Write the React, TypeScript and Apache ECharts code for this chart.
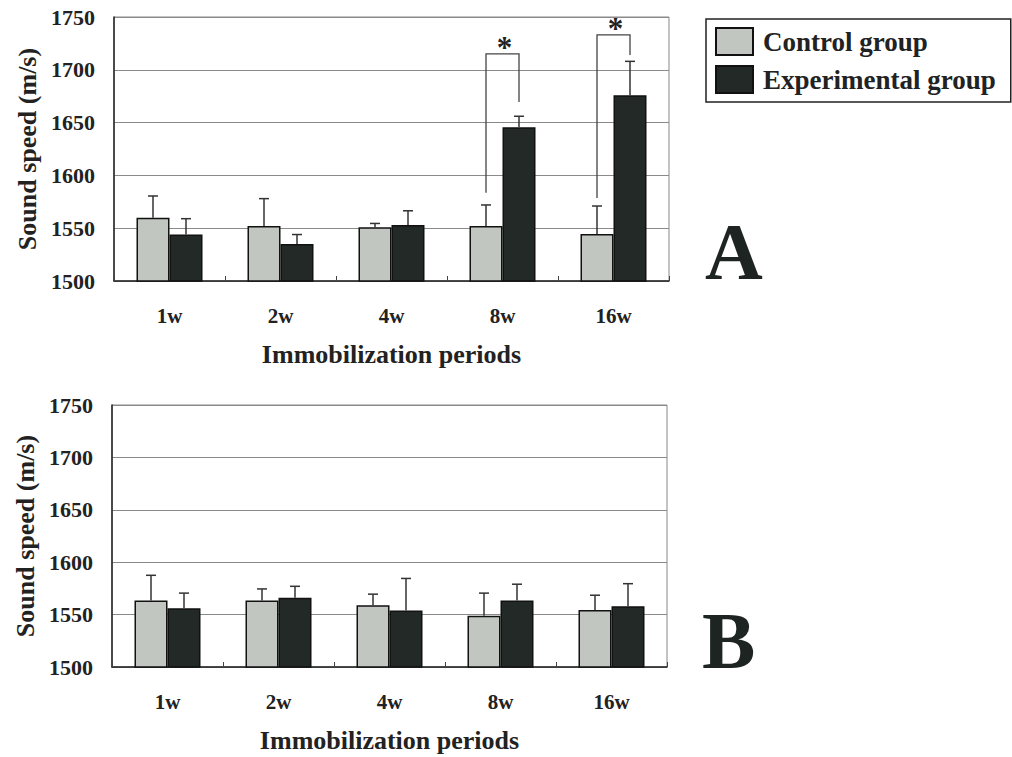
import React, { useEffect, useRef } from "react";
import * as echarts from "echarts";

const categories = ["1w", "2w", "4w", "8w", "16w"];
const yTicks = [1500, 1550, 1600, 1650, 1700, 1750];

// Panel A
const controlA = [1560, 1552, 1551, 1552, 1544.5];
const controlASd = [20.5, 26, 3.5, 20, 26.5];
const expA = [1544, 1535, 1553, 1645.5, 1676];
const expASd = [15, 9, 13.5, 10.5, 32];
// [category index, left base, bracket top, right base]
const bracketsA = [
  [3, 1583.5, 1715, 1669.5],
  [4, 1578.5, 1733, 1714],
];

// Panel B
const controlB = [1563.5, 1563.5, 1559, 1549, 1554.5];
const controlBSd = [24, 11, 10.5, 21.5, 14];
const expB = [1556, 1566, 1554, 1563.5, 1558];
const expBSd = [14.5, 11, 30.5, 15.5, 21.5];

const SERIF = "Liberation Serif";
const BAR_W = 33;
const CONTROL_COLOR = "#c1c6c0";
const EXP_COLOR = "#232927";

function errData(mean: number[], sd: number[]) {
  return mean.map((m, i) => [i, m + sd[i], m]);
}

function errSeries(name: string, grid: number, data: number[][], offset: number) {
  return {
    type: "custom",
    name: name + " SD",
    xAxisIndex: grid,
    yAxisIndex: grid,
    z: 5,
    silent: true,
    data,
    renderItem: (params: any, api: any) => {
      const idx = api.value(0);
      const top = api.coord([idx, api.value(1)]);
      const base = api.coord([idx, api.value(2)]);
      const x = base[0] + offset;
      const st = { stroke: "#333", lineWidth: 1.5 };
      return {
        type: "group",
        children: [
          { type: "line", shape: { x1: x, y1: base[1], x2: x, y2: top[1] }, style: st },
          { type: "line", shape: { x1: x - 5, y1: top[1], x2: x + 5, y2: top[1] }, style: st },
        ],
      };
    },
  };
}

export default function App() {
  const ref = useRef<HTMLDivElement>(null);
  useEffect(() => {
    if (!ref.current) return;
    const chart = echarts.init(ref.current, null, { renderer: "svg" });
    const yAxisBase = () => ({
      type: "value",
      min: 1500,
      max: 1750,
      interval: 50,
      name: "Sound speed (m/s)",
      nameLocation: "middle",
      nameGap: 74,
      nameTextStyle: { fontFamily: SERIF, fontWeight: "bold", fontSize: 26, color: "#222" },
      axisLine: { show: true, lineStyle: { color: "#222", width: 1.5 } },
      axisTick: { show: false },
      axisLabel: {
        fontFamily: SERIF,
        fontWeight: "bold",
        fontSize: 22,
        color: "#222",
        margin: 19,
        formatter: (v: number) => (yTicks.indexOf(v) >= 0 ? String(v) : ""),
      },
      splitLine: { show: true, lineStyle: { color: "#8a8a8a", width: 1 } },
    });
    const xAxisBase = (gi: number) => ({
      type: "category",
      gridIndex: gi,
      data: categories,
      name: "Immobilization periods",
      nameLocation: "middle",
      nameGap: 60,
      nameTextStyle: { fontFamily: SERIF, fontWeight: "bold", fontSize: 26, color: "#222" },
      axisLine: { show: true, lineStyle: { color: "#222", width: 1.5 } },
      axisTick: { show: true, inside: true, length: 5, lineStyle: { color: "#444" } },
      axisLabel: { fontFamily: SERIF, fontWeight: "bold", fontSize: 21, color: "#222", margin: 24 },
    });
    const barStyle = (color: string) => ({ color, borderColor: "#111", borderWidth: 1.5 });

    chart.setOption({
      animation: false,
      backgroundColor: "#fff",
      textStyle: { fontFamily: SERIF },
      grid: [
        { left: 114, top: 17, width: 555, height: 264, show: true, borderColor: "#888", borderWidth: 1 },
        { left: 112, top: 405, width: 555, height: 262, show: true, borderColor: "#888", borderWidth: 1 },
      ],
      xAxis: [xAxisBase(0), xAxisBase(1)],
      yAxis: [
        { ...yAxisBase(), gridIndex: 0 },
        { ...yAxisBase(), gridIndex: 1 },
      ],
      legend: {
        left: 706,
        top: 19,
        orient: "vertical",
        data: ["Control group", "Experimental group"],
        selectedMode: false,
        borderColor: "#222",
        borderWidth: 1.5,
        padding: [8, 15, 8, 9],
        itemWidth: 37,
        itemHeight: 27,
        itemGap: 9,
        icon: "rect",
        textStyle: { fontFamily: SERIF, fontWeight: "bold", fontSize: 27, color: "#222", padding: [0, 0, 0, 5] },
      },
      series: [
        { type: "bar", name: "Control group", xAxisIndex: 0, yAxisIndex: 0, data: controlA, barWidth: BAR_W, barGap: "0%", itemStyle: barStyle(CONTROL_COLOR) },
        { type: "bar", name: "Experimental group", xAxisIndex: 0, yAxisIndex: 0, data: expA, barWidth: BAR_W, barGap: "0%", itemStyle: barStyle(EXP_COLOR) },
        { type: "bar", name: "Control group", xAxisIndex: 1, yAxisIndex: 1, data: controlB, barWidth: BAR_W, barGap: "0%", itemStyle: barStyle(CONTROL_COLOR) },
        { type: "bar", name: "Experimental group", xAxisIndex: 1, yAxisIndex: 1, data: expB, barWidth: BAR_W, barGap: "0%", itemStyle: barStyle(EXP_COLOR) },
        errSeries("Control A", 0, errData(controlA, controlASd), -BAR_W / 2),
        errSeries("Experimental A", 0, errData(expA, expASd), BAR_W / 2),
        errSeries("Control B", 1, errData(controlB, controlBSd), -BAR_W / 2),
        errSeries("Experimental B", 1, errData(expB, expBSd), BAR_W / 2),
        {
          type: "custom",
          name: "significance",
          xAxisIndex: 0,
          yAxisIndex: 0,
          silent: true,
          z: 6,
          data: bracketsA,
          renderItem: (params: any, api: any) => {
            const idx = api.value(0);
            const l = api.coord([idx, api.value(1)]);
            const t = api.coord([idx, api.value(2)]);
            const r = api.coord([idx, api.value(3)]);
            const xl = l[0] - BAR_W / 2;
            const xr = l[0] + BAR_W / 2;
            return {
              type: "group",
              children: [
                {
                  type: "polyline",
                  shape: { points: [[xl, l[1]], [xl, t[1]], [xr, t[1]], [xr, r[1]]] },
                  style: { stroke: "#444", lineWidth: 1.3, fill: "none" },
                },
                {
                  type: "text",
                  style: {
                    text: "*",
                    x: l[0] + 2,
                    y: t[1] - 6,
                    font: `bold 31px ${SERIF}`,
                    fill: "#222",
                    textAlign: "center",
                    textVerticalAlign: "middle",
                  },
                },
              ],
            };
          },
        },
      ],
      graphic: [
        {
          type: "text",
          left: 705,
          top: 212,
          style: { text: "A", font: `bold 80px ${SERIF}`, fill: "#1e2422" },
        },
        {
          type: "text",
          left: 702,
          top: 601,
          style: { text: "B", font: `bold 80px ${SERIF}`, fill: "#1e2422" },
        },
      ],
    });
    return () => chart.dispose();
  }, []);
  return (
    <div
      ref={ref}
      style={{ position: "absolute", left: 0, top: 0, width: 1012, height: 757, background: "#fff" }}
    />
  );
}
